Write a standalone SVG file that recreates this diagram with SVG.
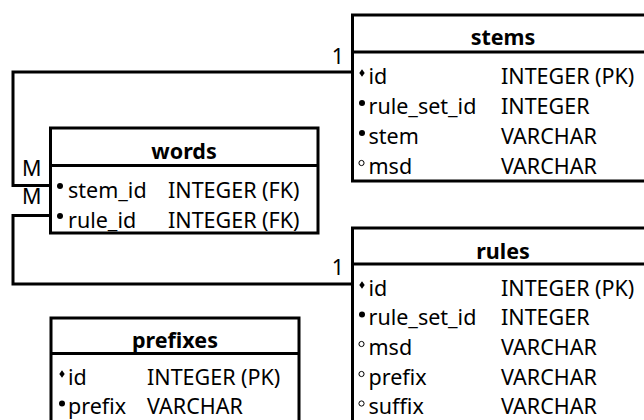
<svg xmlns="http://www.w3.org/2000/svg" width="644" height="420" viewBox="0 0 644 420">
<style>
.box{fill:#fff;stroke:#000;stroke-width:3}
.sep{stroke:#000;stroke-width:3}
.conn{fill:none;stroke:#000;stroke-width:3}
text{font-family:"Noto Sans","Open Sans","DejaVu Sans",sans-serif;font-size:21.5px;fill:#000}
.title{font-weight:bold;font-size:21.5px;text-anchor:middle}
.pk{fill:#000}
.nn{fill:#000}
.nl{fill:#fff;stroke:#000;stroke-width:1}
</style>
<defs>
<polygon id="dia" points="0,-3.8 2.7,0 0,3.8 -2.7,0"/>
</defs>
<rect width="644" height="420" fill="#fff"/>
<g id="connectors">
<path class="conn" d="M352,72 H13 V185.5 H50"/>
<path class="conn" d="M50,215.5 H13 V284 H352"/>
<text x="344" y="63.5" text-anchor="end">1</text>
<text x="344" y="274.5" text-anchor="end">1</text>
<text x="22" y="176">M</text>
<text x="22" y="204">M</text>
</g>
<g id="stems">
<rect class="box" x="352.5" y="15" width="310" height="166"/>
<line class="sep" x1="352.5" y1="52" x2="662" y2="52"/>
<text class="title" x="503" y="44.5">stems</text>
<use href="#dia" x="362" y="73" class="pk"/>
<text x="368.5" y="84">id</text><text x="501" y="84">INTEGER (PK)</text>
<circle class="nn" cx="362" cy="103" r="3"/>
<text x="368.5" y="114">rule_set_id</text><text x="501" y="114">INTEGER</text>
<circle class="nn" cx="362" cy="133" r="3"/>
<text x="368.5" y="144">stem</text><text x="501" y="144">VARCHAR</text>
<circle class="nl" cx="361.5" cy="163" r="2.6"/>
<text x="368.5" y="174">msd</text><text x="501" y="174">VARCHAR</text>
</g>
<g id="words">
<rect class="box" x="50.5" y="128" width="267.5" height="105"/>
<line class="sep" x1="50.5" y1="165.5" x2="318" y2="165.5"/>
<text class="title" x="184" y="158.5">words</text>
<circle class="nn" cx="60" cy="186" r="3"/>
<text x="68" y="197.5">stem_id</text><text x="168" y="197.5">INTEGER (FK)</text>
<circle class="nn" cx="60" cy="216" r="3"/>
<text x="68" y="227.5">rule_id</text><text x="168" y="227.5">INTEGER (FK)</text>
</g>
<g id="rules">
<rect class="box" x="352.5" y="228" width="310" height="220"/>
<line class="sep" x1="352.5" y1="264" x2="662" y2="264"/>
<text class="title" x="503" y="258.5">rules</text>
<use href="#dia" x="362" y="285" class="pk"/>
<text x="368.5" y="295.5">id</text><text x="501" y="295.5">INTEGER (PK)</text>
<circle class="nn" cx="362" cy="314.5" r="3"/>
<text x="368.5" y="325">rule_set_id</text><text x="501" y="325">INTEGER</text>
<circle class="nl" cx="361.5" cy="344" r="2.6"/>
<text x="368.5" y="355">msd</text><text x="501" y="355">VARCHAR</text>
<circle class="nl" cx="361.5" cy="374" r="2.6"/>
<text x="368.5" y="385">prefix</text><text x="501" y="385">VARCHAR</text>
<circle class="nl" cx="361.5" cy="403.5" r="2.6"/>
<text x="368.5" y="414">suffix</text><text x="501" y="414">VARCHAR</text>
</g>
<g id="prefixes">
<rect class="box" x="51" y="318" width="248" height="120"/>
<line class="sep" x1="51" y1="353.5" x2="299" y2="353.5"/>
<text class="title" x="175" y="348">prefixes</text>
<use href="#dia" x="62" y="374" class="pk"/>
<text x="68" y="384.5">id</text><text x="147" y="384.5">INTEGER (PK)</text>
<circle class="nn" cx="62" cy="403.5" r="3"/>
<text x="68" y="414">prefix</text><text x="147" y="414">VARCHAR</text>
</g>
</svg>
